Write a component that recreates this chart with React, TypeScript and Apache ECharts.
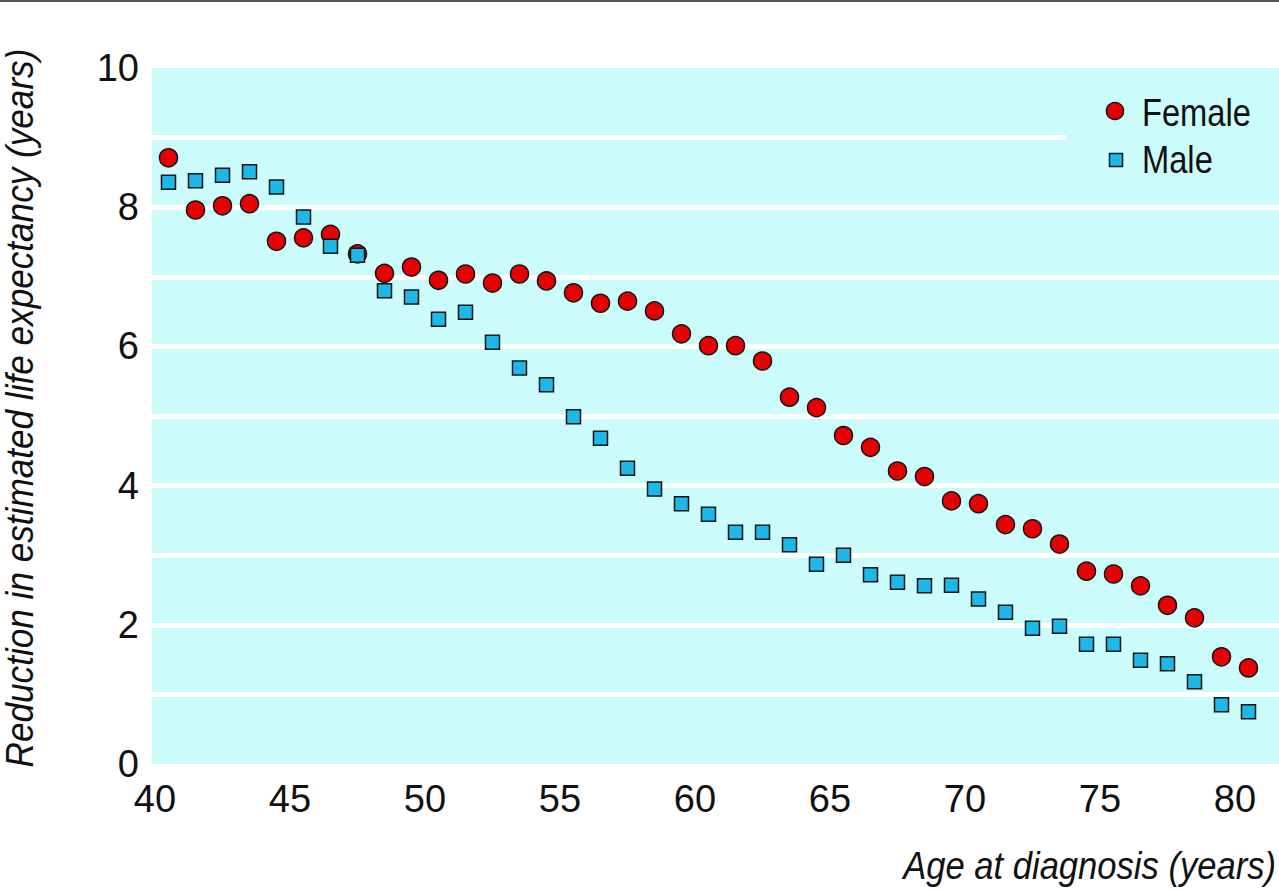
import React, { useEffect, useRef } from "react";
import * as echarts from "echarts";

const ages = [
  40.5, 41.5, 42.5, 43.5, 44.5, 45.5, 46.5, 47.5, 48.5, 49.5,
  50.5, 51.5, 52.5, 53.5, 54.5, 55.5, 56.5, 57.5, 58.5, 59.5,
  60.5, 61.5, 62.5, 63.5, 64.5, 65.5, 66.5, 67.5, 68.5, 69.5,
  70.5, 71.5, 72.5, 73.5, 74.5, 75.5, 76.5, 77.5, 78.5, 79.5, 80.5,
];

const female = [
  8.71, 7.96, 8.02, 8.05, 7.51, 7.56, 7.61, 7.33, 7.05, 7.14,
  6.95, 7.04, 6.91, 7.04, 6.94, 6.77, 6.62, 6.65, 6.51, 6.18,
  6.01, 6.01, 5.79, 5.27, 5.12, 4.72, 4.55, 4.21, 4.13, 3.78,
  3.74, 3.44, 3.38, 3.16, 2.77, 2.73, 2.56, 2.28, 2.1, 1.54, 1.38,
];

const male = [
  8.36, 8.38, 8.46, 8.51, 8.29, 7.86, 7.44, 7.31, 6.8, 6.71,
  6.39, 6.49, 6.06, 5.69, 5.45, 4.99, 4.68, 4.25, 3.95, 3.74,
  3.59, 3.33, 3.33, 3.15, 2.87, 3.0, 2.72, 2.61, 2.56, 2.57,
  2.37, 2.18, 1.95, 1.98, 1.72, 1.72, 1.49, 1.44, 1.18, 0.85, 0.75,
];

const xTickLabels = [40, 45, 50, 55, 60, 65, 70, 75, 80];
const yTickLabels = [0, 2, 4, 6, 8, 10];

const FONT = "'Liberation Sans Narrow', 'Arial Narrow', 'Liberation Sans', Arial, sans-serif";
const BG = "#ccfbfb";
const RED = "#e60000";
const BLUE = "#1db8e8";
const EDGE = "#151515";

export default function App() {
  const ref = useRef<HTMLDivElement>(null);

  useEffect(() => {
    if (!ref.current) return;
    const chart = echarts.init(ref.current, undefined, { renderer: "svg" });
    const option: any = {
      animation: false,
      backgroundColor: "#ffffff",
      grid: {
        left: 152,
        right: 0,
        top: 68,
        bottom: 127,
        show: true,
        backgroundColor: BG,
        borderWidth: 0,
      },
      xAxis: {
        type: "value",
        min: 39.889,
        max: 81.63,
        axisLine: { show: false },
        axisTick: { show: false },
        splitLine: { show: false },
        axisLabel: {
          customValues: xTickLabels,
          fontFamily: FONT,
          fontSize: 38,
          color: "#111",
          margin: 16,
        },
      },
      yAxis: {
        type: "value",
        min: 0,
        max: 10,
        interval: 1,
        axisLine: { show: false },
        axisTick: { show: false },
        splitLine: {
          show: true,
          showMinLine: false,
          showMaxLine: false,
          lineStyle: { color: "#ffffff", width: 5 },
        },
        axisLabel: {
          formatter: (v: number) => (yTickLabels.indexOf(v) >= 0 ? String(v) : ""),
          fontFamily: FONT,
          fontSize: 38,
          color: "#111",
          margin: 13,
        },
      },
      series: [
        {
          name: "Female",
          type: "scatter",
          symbol: "circle",
          symbolSize: 18,
          data: ages.map((a, i) => [a, female[i]]),
          itemStyle: { color: RED, borderColor: EDGE, borderWidth: 1.5, opacity: 1 },
          z: 2,
        },
        {
          name: "Male",
          type: "scatter",
          symbol: "rect",
          symbolSize: 14,
          data: ages.map((a, i) => [a, male[i]]),
          itemStyle: { color: BLUE, borderColor: EDGE, borderWidth: 1.5, opacity: 1 },
          z: 3,
        },
      ],
      graphic: [
        { type: "rect", z: 0, shape: { x: 0, y: 0, width: 1279, height: 2 }, style: { fill: "#555" } },
        { type: "rect", z: 1, shape: { x: 1066, y: 120, width: 213, height: 60 }, style: { fill: BG } },
        { type: "circle", z: 5, shape: { cx: 1115, cy: 111, r: 8.5 }, style: { fill: RED, stroke: EDGE, lineWidth: 1.5 } },
        { type: "rect", z: 5, shape: { x: 1109.5, y: 153.5, width: 13, height: 13 }, style: { fill: BLUE, stroke: EDGE, lineWidth: 1.5 } },
        {
          type: "text", z: 5, x: 1142, y: 113, scaleX: 0.86,
          style: { text: "Female", font: `38px ${FONT}`, fill: "#111", textAlign: "left", textVerticalAlign: "middle" },
        },
        {
          type: "text", z: 5, x: 1142, y: 160, scaleX: 0.86,
          style: { text: "Male", font: `38px ${FONT}`, fill: "#111", textAlign: "left", textVerticalAlign: "middle" },
        },
        {
          type: "text", z: 5, x: 20, y: 408, rotation: Math.PI / 2, scaleX: 0.925,
          style: {
            text: "Reduction in estimated life expectancy (years)",
            font: `italic 38px ${FONT}`, fill: "#111", textAlign: "center", textVerticalAlign: "middle",
          },
        },
        {
          type: "text", z: 5, x: 1276, y: 866, scaleX: 0.91,
          style: {
            text: "Age at diagnosis (years)",
            font: `italic 38px ${FONT}`, fill: "#111", textAlign: "right", textVerticalAlign: "middle",
          },
        },
      ],
    };
    chart.setOption(option);
    return () => chart.dispose();
  }, []);

  return (
    <div
      ref={ref}
      style={{ position: "fixed", left: 0, top: 0, width: 1279, height: 891 }}
    />
  );
}
